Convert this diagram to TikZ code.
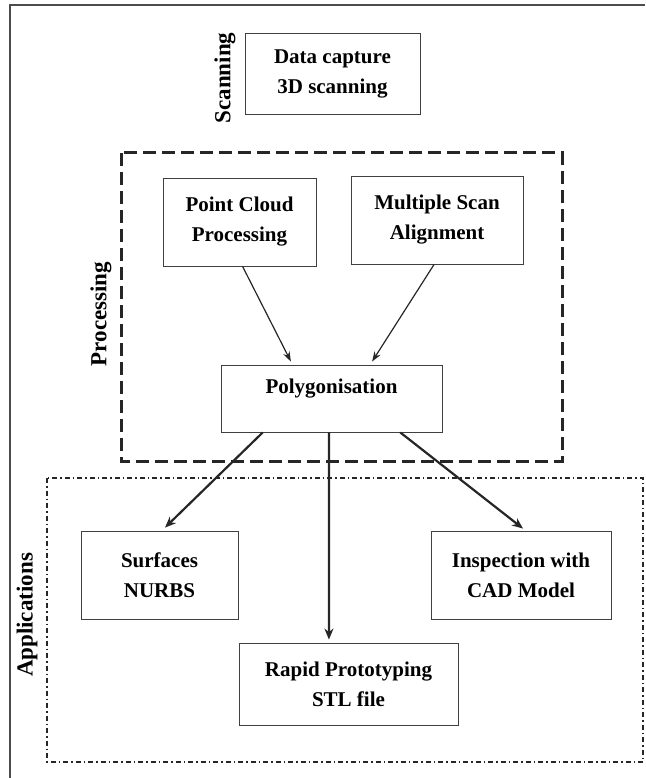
\documentclass[tikz,border=0pt]{standalone}
\usepackage{fontspec}
\setmainfont{Liberation Serif}
\usetikzlibrary{arrows.meta,calc}
\begin{document}
\begin{tikzpicture}[x=1pt,y=-1pt,
  box/.style={draw=black!75, line width=0.9pt, align=center, inner sep=0pt,
    font=\fontsize{21}{30}\selectfont\bfseries},
  grp/.style={font=\fontsize{23}{27}\selectfont\bfseries, rotate=90, inner sep=0pt},
  thinarrow/.style={line width=1.2pt, black!85, -{Stealth[length=10pt,width=7pt]}},
  thickarrow/.style={line width=2.2pt, black!85, -{Stealth[length=11pt,width=9pt]}},
  frame/.style={draw=black!70, line width=1.3pt}]
\useasboundingbox (0,0) rectangle (645,778);
% outer frame (top and left edges only)
\draw[frame] (10,778) -- (10,5) -- (645,5);
% group boxes
\draw[line width=3pt, black!85, dash pattern=on 13pt off 6pt] (121,153) rectangle (562,461);
\draw[line width=1.6pt, black!85, dash pattern=on 5pt off 3pt on 1.5pt off 3pt] (47,478) rectangle (643,762);
% group labels
\node[grp] (lscan) at (225,78) {Scanning};
\node[grp] (lproc) at (101,314) {Processing};
\node[grp] (lapp) at (27,615) {Applications};
% boxes
\node[box, minimum width=175pt, minimum height=81pt] (scan) at (332.5,73.5) {Data capture\\3D scanning};
\node[box, minimum width=153pt, minimum height=88pt] (pcp) at (239.5,222) {Point Cloud\\Processing};
\node[box, minimum width=172pt, minimum height=88pt] (msa) at (437,220) {Multiple Scan\\Alignment};
\node[box, minimum width=221pt, minimum height=67pt] (poly) at (331.5,398.5) {Polygonisation\\[-6pt]\mbox{}};
\node[box, minimum width=157pt, minimum height=88pt] (surf) at (159.5,575) {Surfaces\\NURBS};
\node[box, minimum width=180pt, minimum height=88pt] (insp) at (521,575) {Inspection with\\CAD Model};
\node[box, minimum width=219pt, minimum height=82pt] (rapid) at (348.5,684) {Rapid Prototyping\\STL file};
% arrows into polygonisation
\coordinate (p1) at ($(poly.north west)!0.317!(poly.north east)+(0,-3)$);
\coordinate (p2) at ($(poly.north west)!0.683!(poly.north east)+(0,-3)$);
\draw[thinarrow] ($(pcp.south west)!0.52!(pcp.south east)$) -- (p1);
\draw[thinarrow] ($(msa.south west)!0.483!(msa.south east)$) -- (p2);
% arrows out of polygonisation
\coordinate (s1) at ($(surf.north west)!0.535!(surf.north east)+(0,-3)$);
\coordinate (s2) at ($(rapid.north west)!0.411!(rapid.north east)+(0,-3)$);
\coordinate (s3) at ($(insp.north west)!0.511!(insp.north east)+(0,-2)$);
\draw[thickarrow] ($(poly.south west)!0.19!(poly.south east)$) -- (s1);
\draw[thickarrow] ($(poly.south west)!0.489!(poly.south east)$) -- (s2);
\draw[thickarrow] ($(poly.south west)!0.81!(poly.south east)$) -- (s3);
\end{tikzpicture}
\end{document}
